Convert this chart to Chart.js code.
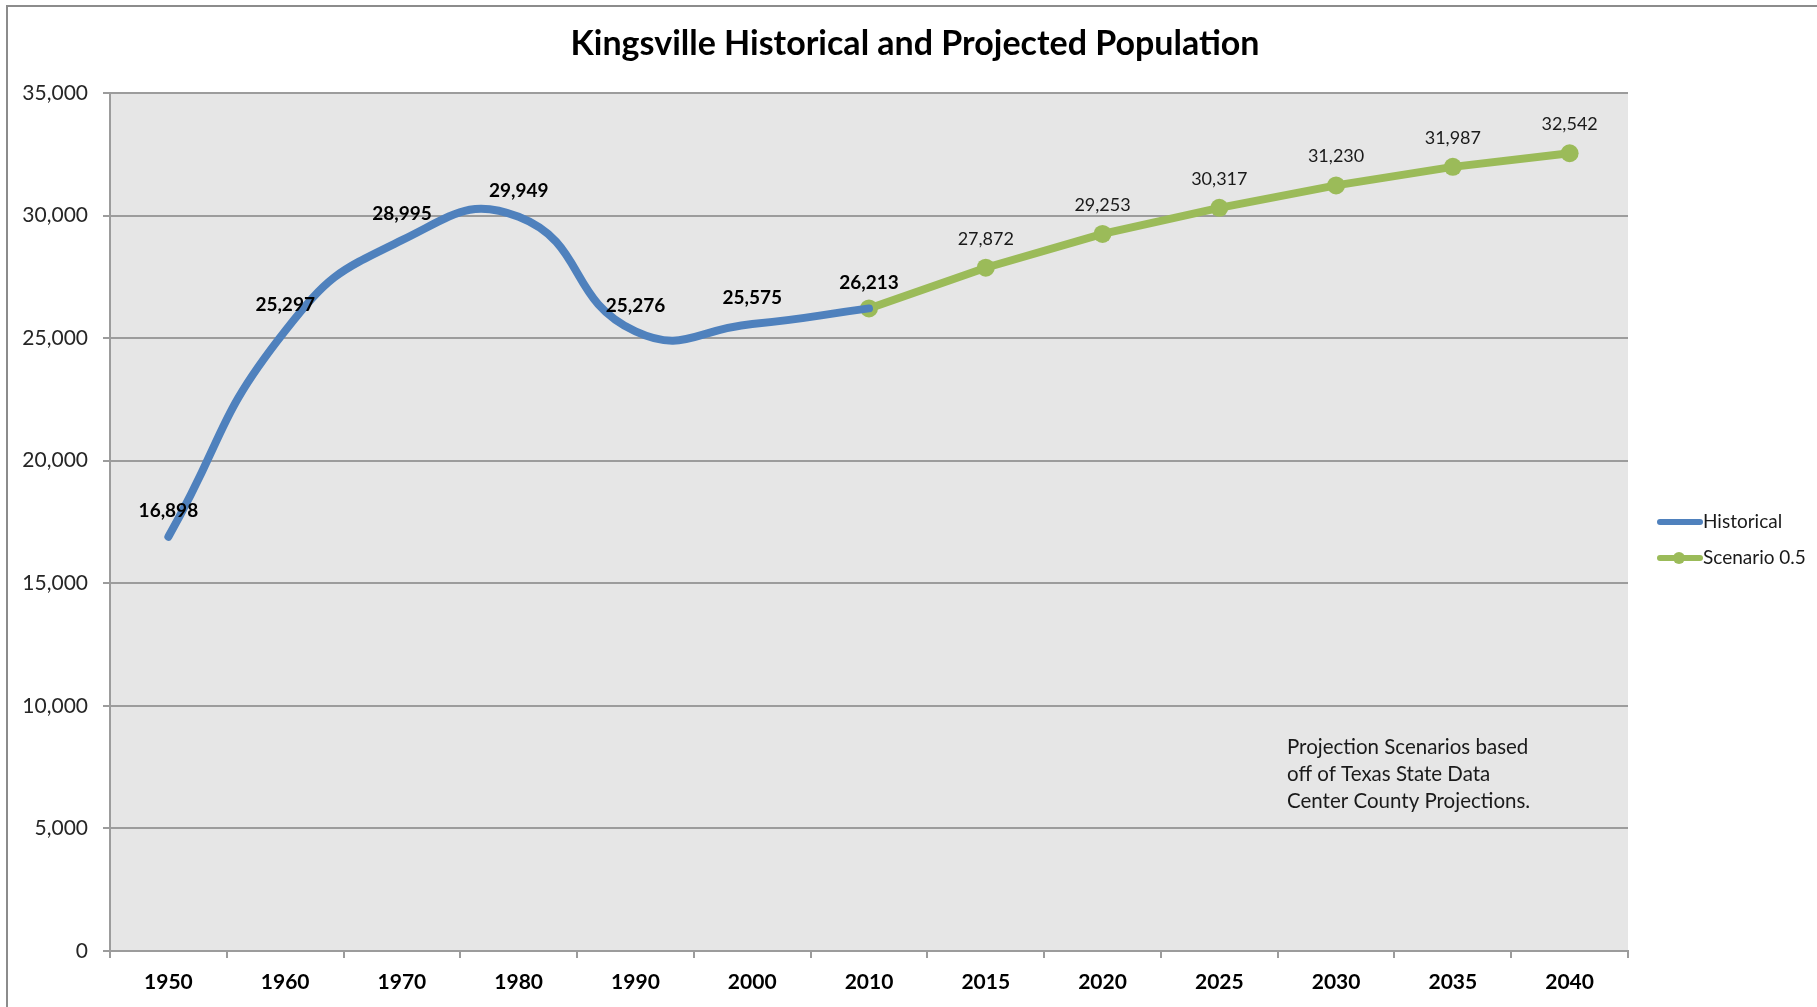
<!DOCTYPE html>
<html>
<head>
<meta charset="utf-8">
<script src="https://cdn.jsdelivr.net/npm/chart.js@4/dist/chart.umd.min.js"></script>
<style>
  html, body { margin: 0; padding: 0; background: #ffffff; }
  #wrap { width: 1817px; height: 1007px; position: relative; }
</style>
</head>
<body>
<div id="wrap"><canvas id="c" width="1817" height="1007"></canvas></div>
<script>
const chartTitle = "Kingsville Historical and Projected Population";
const years = ["1950", "1960", "1970", "1980", "1990", "2000", "2010", "2015", "2020", "2025", "2030", "2035", "2040"];
const historical = [16898, 25297, 28995, 29949, 25276, 25575, 26213, null, null, null, null, null, null];
const scenario = [null, null, null, null, null, null, 26213, 27872, 29253, 30317, 31230, 31987, 32542];
const seriesNames = ["Historical", "Scenario 0.5"];
const yTicks = [0, 5000, 10000, 15000, 20000, 25000, 30000, 35000];
const noteLines = ["Projection Scenarios based", "off of Texas State Data", "Center County Projections."];

const FONT = "Lato, 'Open Sans', 'DejaVu Sans', sans-serif";
const BLUE = "#4f81bd";
const GREEN = "#9bbb59";
const GRID = "#9c9c9c";

function fmt(v) { return v.toLocaleString('en-US'); }

const decorPlugin = {
  id: 'decor',
  beforeDraw(chart) {
    const ctx = chart.ctx;
    const a = chart.chartArea;
    ctx.save();
    ctx.fillStyle = '#ffffff';
    ctx.fillRect(0, 0, chart.width, chart.height);
    ctx.fillStyle = '#e6e6e6';
    ctx.fillRect(a.left, a.top, a.right - a.left, a.bottom - a.top);
    // outer frame
    ctx.strokeStyle = '#8c8c8c';
    ctx.lineWidth = 2;
    ctx.beginPath();
    ctx.moveTo(7, chart.height + 5);
    ctx.lineTo(7, 6);
    ctx.lineTo(chart.width + 5, 6);
    ctx.stroke();
    // title
    ctx.fillStyle = '#000000';
    ctx.font = "bold 34px " + FONT;
    ctx.textAlign = 'center';
    ctx.textBaseline = 'middle';
    ctx.fillText(chartTitle, 915, 44);
    ctx.restore();
  },
  afterDatasetsDraw(chart) {
    const ctx = chart.ctx;
    ctx.save();
    ctx.textAlign = 'center';
    ctx.textBaseline = 'middle';
    chart.data.datasets.forEach((ds, i) => {
      const meta = chart.getDatasetMeta(i);
      meta.data.forEach((pt, j) => {
        const v = ds.data[j];
        if (v === null || v === undefined) return;
        if (i === 1 && historical[j] !== null) return;
        if (i === 0) {
          ctx.font = "bold 19px " + FONT;
          ctx.fillStyle = '#000000';
          ctx.fillText(fmt(v), pt.x, pt.y - 26);
        } else {
          ctx.font = "18px " + FONT;
          ctx.fillStyle = '#1a1a1a';
          ctx.fillText(fmt(v), pt.x, pt.y - 29);
        }
      });
    });
    // annotation
    ctx.textAlign = 'left';
    ctx.font = "20.5px " + FONT;
    ctx.fillStyle = '#1a1a1a';
    noteLines.forEach((t, k) => ctx.fillText(t, 1287, 747 + k * 27));
    // legend
    const items = [
      { name: seriesNames[0], color: BLUE, y: 522, dot: false },
      { name: seriesNames[1], color: GREEN, y: 558, dot: true }
    ];
    items.forEach(it => {
      ctx.strokeStyle = it.color;
      ctx.lineWidth = 6;
      ctx.lineCap = 'round';
      ctx.beginPath();
      ctx.moveTo(1660, it.y);
      ctx.lineTo(1700, it.y);
      ctx.stroke();
      if (it.dot) {
        ctx.fillStyle = it.color;
        ctx.beginPath();
        ctx.arc(1679, it.y, 6, 0, Math.PI * 2);
        ctx.fill();
      }
      ctx.fillStyle = '#1a1a1a';
      ctx.font = "19px " + FONT;
      ctx.textAlign = 'left';
      ctx.fillText(it.name, 1703, it.y);
    });
    ctx.restore();
  }
};

new Chart(document.getElementById('c'), {
  type: 'line',
  data: {
    labels: years,
    datasets: [
      {
        label: seriesNames[0],
        data: historical,
        borderColor: BLUE,
        backgroundColor: BLUE,
        borderWidth: 8,
        pointRadius: 0,
        tension: 0.5,
        spanGaps: false,
        borderCapStyle: 'round'
      },
      {
        label: seriesNames[1],
        data: scenario,
        borderColor: GREEN,
        backgroundColor: GREEN,
        borderWidth: 8,
        pointRadius: 9,
        pointBorderWidth: 0,
        pointBackgroundColor: GREEN,
        tension: 0,
        spanGaps: false
      }
    ]
  },
  options: {
    responsive: false,
    animation: false,
    devicePixelRatio: 1,
    layout: { padding: { top: 93, right: 189, left: 0, bottom: 0 } },
    plugins: {
      legend: { display: false },
      title: { display: false },
      tooltip: { enabled: false }
    },
    scales: {
      x: {
        type: 'category',
        offset: true,
        afterFit(s) { s.height = 56; },
        grid: {
          offset: true,
          drawOnChartArea: false,
          drawTicks: true,
          tickLength: 7,
          color: GRID,
          lineWidth: 2
        },
        border: { display: true, color: GRID, width: 2 },
        ticks: {
          font: { family: FONT, size: 21, weight: 'bold' },
          color: '#000000',
          padding: 12,
          maxRotation: 0,
          autoSkip: false
        }
      },
      y: {
        min: 0,
        max: 35000,
        afterFit(s) { s.width = 110; },
        afterBuildTicks(s) { s.ticks = yTicks.map(v => ({ value: v })); },
        grid: {
          color: GRID,
          lineWidth: 2,
          drawTicks: true,
          tickLength: 7
        },
        border: { display: true, color: GRID, width: 2 },
        ticks: {
          font: { family: FONT, size: 21 },
          color: '#262626',
          padding: 15,
          callback: v => fmt(v)
        }
      }
    }
  },
  plugins: [decorPlugin]
});
</script>
</body>
</html>
